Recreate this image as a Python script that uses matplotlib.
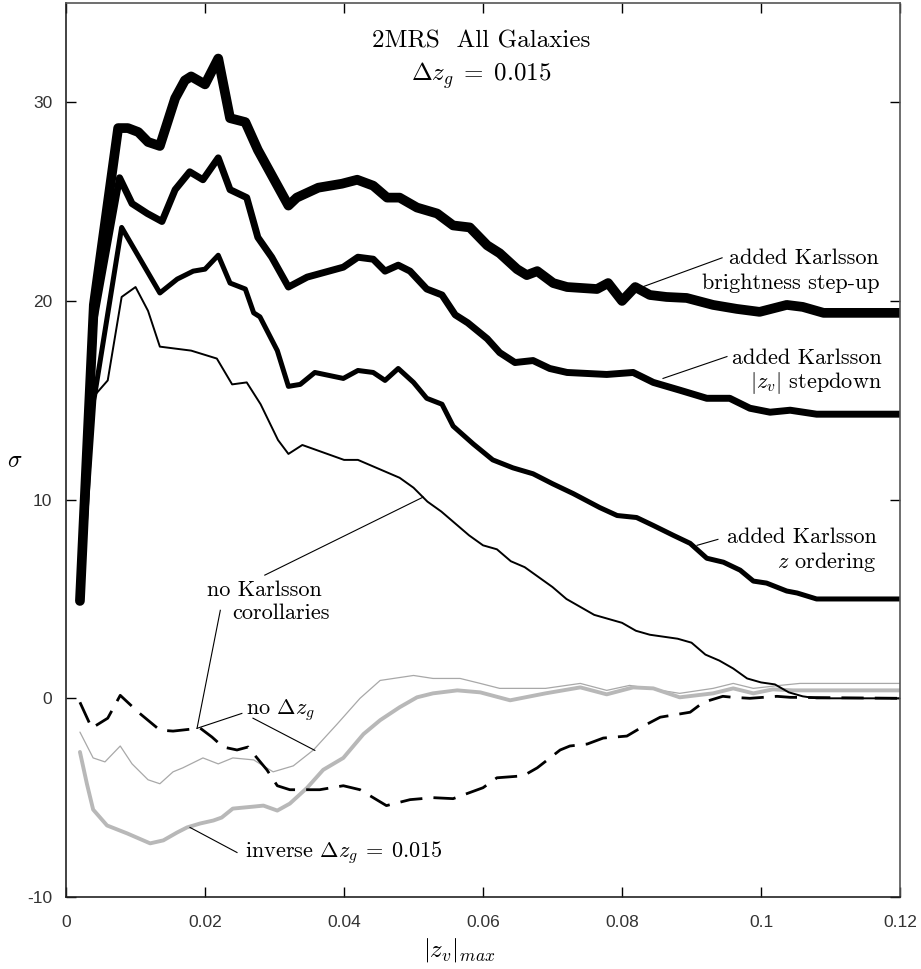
import matplotlib
matplotlib.use("Agg")
import matplotlib.pyplot as plt

# --- data (x = |z_v|_max, y = sigma) ---
step_up_x = [0.002, 0.004, 0.0075, 0.0089, 0.0104, 0.0118, 0.0135, 0.0157, 0.0171, 0.018, 0.020,
             0.0219, 0.0236, 0.0258, 0.0276, 0.0320, 0.0332, 0.0363, 0.0397, 0.0419, 0.0442, 0.0462,
             0.048, 0.0505, 0.0534, 0.0557, 0.0581, 0.0606, 0.0624, 0.0649, 0.0663, 0.0678, 0.0701,
             0.0721, 0.0764, 0.078, 0.080, 0.0819, 0.084, 0.0864, 0.0893, 0.0931, 0.0965, 0.0998,
             0.1037, 0.106, 0.109, 0.12]
step_up_y = [4.9, 19.8, 28.7, 28.7, 28.5, 28.0, 27.8, 30.2, 31.1, 31.3, 30.9,
             32.2, 29.2, 29.0, 27.6, 24.8, 25.2, 25.7, 25.9, 26.1, 25.8, 25.2,
             25.2, 24.7, 24.4, 23.8, 23.7, 22.8, 22.4, 21.6, 21.3, 21.5, 20.9,
             20.7, 20.6, 20.9, 20.0, 20.7, 20.3, 20.2, 20.15, 19.8, 19.6, 19.45,
             19.8, 19.7, 19.4, 19.4]

stepdown_x = [0.002, 0.004, 0.0077, 0.0095, 0.0117, 0.0138, 0.0157, 0.0178, 0.0197, 0.0219, 0.0236,
              0.026, 0.0276, 0.0296, 0.032, 0.0347, 0.0399, 0.042, 0.0442, 0.0459, 0.0478, 0.0495,
              0.0519, 0.0541, 0.056, 0.0578, 0.0606, 0.0624, 0.0646, 0.0672, 0.0696, 0.0721, 0.0778,
              0.0816, 0.0845, 0.0884, 0.0922, 0.0955, 0.0984, 0.1013, 0.1042, 0.108, 0.12]
stepdown_y = [4.9, 19.0, 26.2, 24.9, 24.4, 24.0, 25.6, 26.5, 26.1, 27.2, 25.6,
              25.2, 23.2, 22.2, 20.7, 21.2, 21.7, 22.2, 22.1, 21.5, 21.8, 21.5,
              20.6, 20.3, 19.3, 18.9, 18.1, 17.4, 16.9, 17.0, 16.6, 16.4, 16.3,
              16.4, 15.9, 15.5, 15.1, 15.1, 14.6, 14.4, 14.5, 14.3, 14.3]

zorder_x = [0.002, 0.004, 0.008, 0.0135, 0.016, 0.0183, 0.020, 0.0219, 0.0236, 0.0258, 0.027,
            0.0279, 0.0304, 0.032, 0.0337, 0.0358, 0.0399, 0.042, 0.0442, 0.0459, 0.0478, 0.050,
            0.0519, 0.0541, 0.0557, 0.0586, 0.0614, 0.0643, 0.0672, 0.070, 0.073, 0.0768, 0.0793,
            0.0821, 0.0845, 0.0874, 0.0898, 0.0922, 0.0946, 0.097, 0.0989, 0.1008, 0.1037, 0.1052,
            0.108, 0.12]
zorder_y = [4.9, 15.0, 23.7, 20.4, 21.1, 21.5, 21.6, 22.3, 20.9, 20.6, 19.4,
            19.2, 17.5, 15.7, 15.8, 16.4, 16.1, 16.5, 16.4, 16.0, 16.6, 15.9,
            15.1, 14.8, 13.7, 12.8, 12.0, 11.6, 11.3, 10.8, 10.3, 9.6, 9.2,
            9.1, 8.7, 8.2, 7.8, 7.05, 6.85, 6.45, 5.9, 5.8, 5.4, 5.3,
            5.0, 5.0]

nocorr_x = [0.002, 0.004, 0.006, 0.008, 0.010, 0.0118, 0.0135, 0.018, 0.0217, 0.0239, 0.026,
            0.028, 0.0305, 0.032, 0.034, 0.040, 0.042, 0.048, 0.050, 0.052, 0.054, 0.056, 0.058,
            0.060, 0.062, 0.064, 0.066, 0.068, 0.070, 0.072, 0.074, 0.076, 0.078, 0.080, 0.082,
            0.084, 0.086, 0.088, 0.090, 0.092, 0.094, 0.096, 0.098, 0.100, 0.102, 0.104, 0.106,
            0.108, 0.12]
nocorr_y = [4.9, 15.2, 16.0, 20.2, 20.7, 19.5, 17.7, 17.5, 17.1, 15.8, 15.9,
            14.8, 13.0, 12.3, 12.75, 12.0, 12.0, 11.1, 10.6, 9.9, 9.4, 8.8, 8.2,
            7.7, 7.5, 6.9, 6.6, 6.1, 5.6, 5.0, 4.6, 4.2, 4.0, 3.8, 3.4,
            3.2, 3.1, 3.0, 2.8, 2.2, 1.9, 1.5, 1.0, 0.8, 0.7, 0.3, 0.1,
            0.0, 0.0]

dashed_x = [0.002, 0.0037, 0.006, 0.0078, 0.0104, 0.0135, 0.0154, 0.0193, 0.021, 0.0226, 0.0246,
            0.0262, 0.027, 0.0289, 0.0304, 0.0322, 0.0365, 0.0399, 0.0423, 0.0442, 0.0461, 0.0495,
            0.0528, 0.0557, 0.060, 0.062, 0.0658, 0.0678, 0.0711, 0.0725, 0.075, 0.0773, 0.0807,
            0.0836, 0.0855, 0.0898, 0.0917, 0.0945, 0.096, 0.0984, 0.1023, 0.1042, 0.12]
dashed_y = [-0.2, -1.5, -1.0, 0.15, -0.7, -1.6, -1.65, -1.5, -1.95, -2.45, -2.6,
            -2.45, -2.8, -3.6, -4.4, -4.6, -4.6, -4.4, -4.6, -5.0, -5.4, -5.1,
            -5.0, -5.05, -4.5, -4.0, -3.9, -3.5, -2.6, -2.4, -2.3, -2.0, -1.9,
            -1.3, -0.95, -0.7, -0.2, 0.1, 0.05, 0.0, 0.1, 0.05, 0.0]

nodz_x = [0.002, 0.0039, 0.0056, 0.0078, 0.0095, 0.0118, 0.0135, 0.0154, 0.0168, 0.0197, 0.0219,
          0.024, 0.027, 0.0298, 0.0327, 0.0356, 0.039, 0.0423, 0.0452, 0.050, 0.0528, 0.0567,
          0.0596, 0.0624, 0.069, 0.074, 0.0778, 0.0811, 0.0883, 0.0931, 0.096, 0.0989, 0.1027,
          0.1056, 0.12]
nodz_y = [-1.7, -3.0, -3.2, -2.4, -3.3, -4.1, -4.3, -3.7, -3.5, -3.0, -3.3,
          -3.0, -3.1, -3.7, -3.4, -2.6, -1.3, 0.0, 0.9, 1.15, 1.0, 1.0,
          0.75, 0.5, 0.5, 0.75, 0.4, 0.65, 0.25, 0.5, 0.75, 0.5, 0.65,
          0.75, 0.75]

inverse_x = [0.002, 0.003, 0.0039, 0.0059, 0.0088, 0.0121, 0.014, 0.016, 0.0174, 0.0193, 0.0212,
             0.0224, 0.024, 0.027, 0.0284, 0.0304, 0.0322, 0.0347, 0.037, 0.0399, 0.0428, 0.0452,
             0.048, 0.0505, 0.0528, 0.0563, 0.0596, 0.0639, 0.069, 0.074, 0.0778, 0.0816, 0.0845,
             0.0883, 0.0931, 0.096, 0.0989, 0.1017, 0.1046, 0.12]
inverse_y = [-2.7, -4.3, -5.6, -6.4, -6.8, -7.3, -7.15, -6.75, -6.5, -6.3, -6.15,
             -6.0, -5.55, -5.45, -5.4, -5.65, -5.3, -4.5, -3.6, -3.0, -1.8, -1.1,
             -0.45, 0.05, 0.25, 0.4, 0.3, -0.1, 0.25, 0.55, 0.2, 0.55, 0.5,
             0.05, 0.25, 0.5, 0.25, 0.45, 0.4, 0.4]

x_ticks = [0, 0.02, 0.04, 0.06, 0.08, 0.1, 0.12]
x_tick_labels = ["0", "0.02", "0.04", "0.06", "0.08", "0.1", "0.12"]
y_ticks = [-10, 0, 10, 20, 30]
y_tick_labels = ["-10", "0", "10", "20", "30"]

plt.rcParams["mathtext.fontset"] = "cm"
serif = "cmr10"

fig = plt.figure(figsize=(9.21, 9.69), dpi=100)
ax = fig.add_axes([0.0717, 0.0743, 0.9055, 0.9227])

gray_thin = "#a8a8a8"
gray_thick = "#b8b8b8"
rk = dict(solid_capstyle="round", solid_joinstyle="round")

ax.plot(nodz_x, nodz_y, color=gray_thin, lw=0.9, **rk)
ax.plot(inverse_x, inverse_y, color=gray_thick, lw=2.8, **rk)
ax.plot(dashed_x, dashed_y, color="black", lw=2.0, linestyle=(0, (8, 4)),
        dash_capstyle="butt", dash_joinstyle="round")
ax.plot(nocorr_x, nocorr_y, color="black", lw=1.4, **rk)
ax.plot(zorder_x, zorder_y, color="black", lw=3.6, **rk)
ax.plot(stepdown_x, stepdown_y, color="black", lw=5.0, **rk)
ax.plot(step_up_x, step_up_y, color="black", lw=7.0, **rk)

ax.set_xlim(0, 0.12)
ax.set_ylim(-10, 35)
ax.set_xticks(x_ticks)
ax.set_xticklabels(x_tick_labels)
ax.set_yticks(y_ticks)
ax.set_yticklabels(y_tick_labels)
ax.tick_params(direction="in", length=7, width=1, top=True, right=True,
               labelsize=12.5, labelcolor="#333333")
ax.tick_params(axis="x", pad=13)
ax.tick_params(axis="y", pad=10)
for lab in ax.get_xticklabels() + ax.get_yticklabels():
    lab.set_family("Liberation Sans")
for s in ax.spines.values():
    s.set_linewidth(1.2)
    s.set_color("#222222")
ax.spines["top"].set_color("#555555")
ax.spines["right"].set_color("#555555")

ax.set_ylabel(r"$\sigma$", rotation=0, fontsize=17, va="center")
ax.yaxis.set_label_coords(-0.061, 0.489)
ax.set_xlabel(r"$|z_v|_{max}$", fontsize=18, va="center")
ax.xaxis.set_label_coords(0.472, -0.059)

fs = 16
ax.text(0.0597, 33.05, "2MRS  All Galaxies", family=serif, fontsize=18, ha="center", va="center")
ax.text(0.0597, 31.35, r"$\Delta z_g\;=\;0.015$", fontsize=18, ha="center", va="center")

ax.text(0.117, 22.17, "added Karlsson", family=serif, fontsize=fs, ha="right", va="center")
ax.text(0.117, 20.9, "brightness step-up", family=serif, fontsize=fs, ha="right", va="center")
ax.plot([0.0829, 0.0944], [20.7, 22.17], color="black", lw=0.8)

ax.text(0.1174, 17.13, "added Karlsson", family=serif, fontsize=fs, ha="right", va="center")
ax.text(0.1174, 15.87, r"$|z_v|$ stepdown", family=serif, fontsize=fs, ha="right", va="center")
ax.plot([0.0859, 0.0951], [16.1, 17.2], color="black", lw=0.8)

ax.text(0.1167, 8.11, "added Karlsson", family=serif, fontsize=fs, ha="right", va="center")
ax.text(0.1167, 6.85, r"$z$ ordering", family=serif, fontsize=fs, ha="right", va="center")
ax.plot([0.0908, 0.0938], [7.7, 8.0], color="black", lw=0.8)

ax.text(0.0285, 5.44, "no Karlsson", family=serif, fontsize=fs, ha="center", va="center")
ax.text(0.0309, 4.28, "corollaries", family=serif, fontsize=fs, ha="center", va="center")
ax.plot([0.0286, 0.0514], [6.2, 10.13], color="black", lw=0.8)
ax.plot([0.0222, 0.01885], [4.43, -1.51], color="black", lw=0.8)

ax.text(0.0309, -0.6, r"no $\Delta z_g$", family=serif, fontsize=fs, ha="center", va="center")
ax.plot([0.0253, 0.01885], [-0.76, -1.51], color="black", lw=0.8)
ax.plot([0.0269, 0.0358], [-1.0, -2.62], color="black", lw=0.8)

ax.text(0.0258, -7.76, r"inverse $\Delta z_g\:=\:0.015$", family=serif, fontsize=fs,
        ha="left", va="center")
ax.plot([0.0246, 0.01784], [-7.76, -6.5], color="black", lw=0.8)

fig.savefig("out.png", dpi=100)
